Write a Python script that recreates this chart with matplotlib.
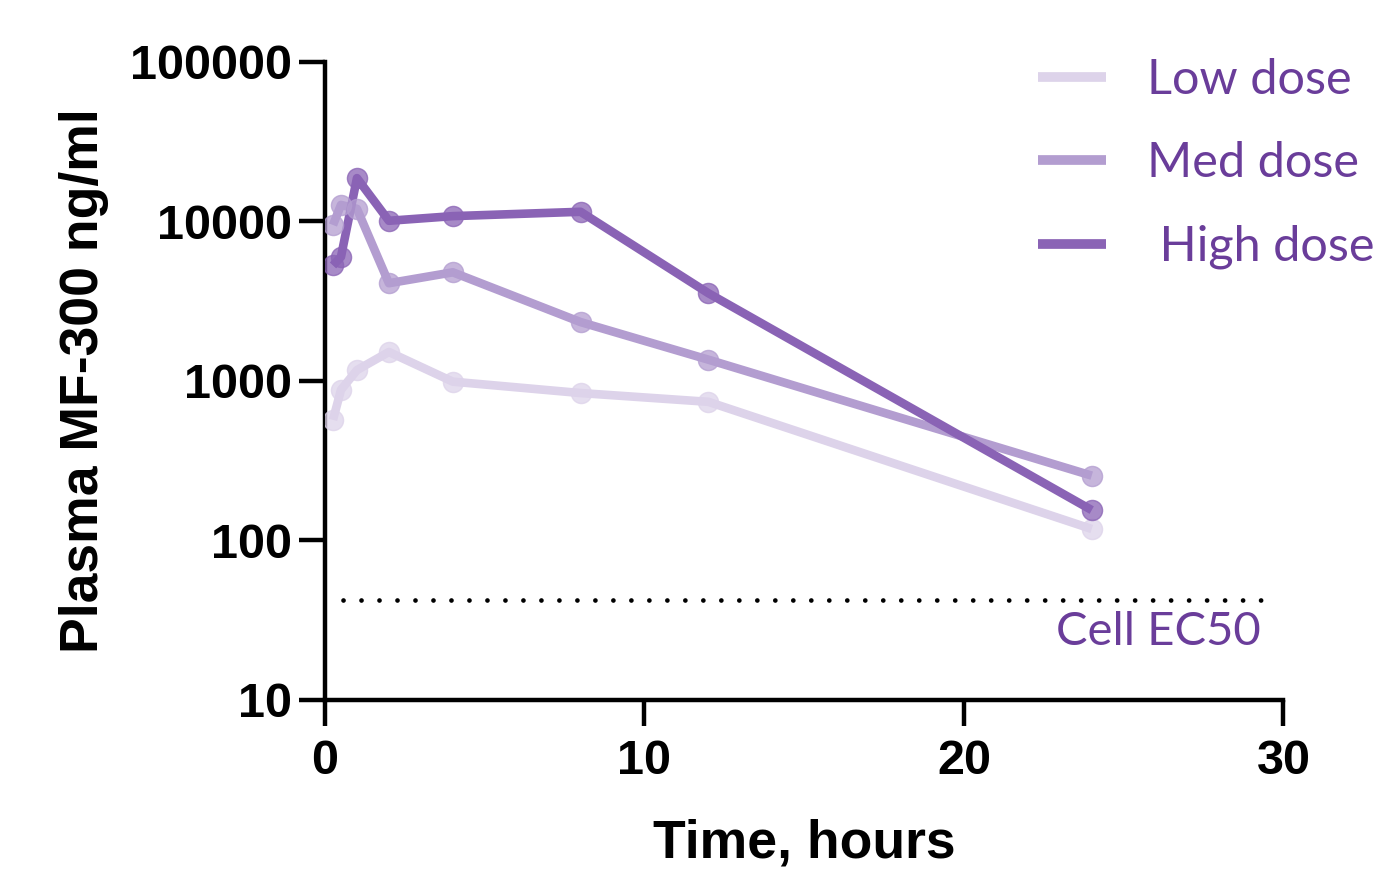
import matplotlib.pyplot as plt
from matplotlib.ticker import FixedLocator, FixedFormatter, NullLocator

# sampling times (hours)
times = [0.25, 0.5, 1, 2, 4, 8, 12, 24]

# plasma concentrations (ng/ml)
low_dose = [570, 880, 1170, 1520, 990, 840, 740, 118]
med_dose = [9500, 12700, 12000, 4100, 4800, 2340, 1360, 255]
high_dose = [5300, 6000, 18700, 10100, 10800, 11500, 3550, 155]

series_names = ["Low dose", "Med dose", " High dose"]
series_colors = ["#DDD3EA", "#B39DD0", "#8A63B5"]
ec50 = 42.5

text_purple = "#6A3D9A"

fig = plt.figure(figsize=(13.83, 8.69), dpi=100)
ax = fig.add_axes([0.235, 0.1945, 0.693, 0.7342])

handles = []
for vals, name, col in zip([low_dose, med_dose, high_dose], series_names, series_colors):
    ln, = ax.plot(times, vals, color=col, lw=6.2, solid_capstyle="butt", zorder=2, label=name)
    ax.plot(times, vals, linestyle="none", marker="o", ms=14.5, mfc=col, mec=col,
            alpha=0.75, zorder=3)
    handles.append(ln)

ax.plot([0.56, 29.5], [ec50, ec50], color="black", lw=3.4, linestyle=(0, (0.01, 3.8)),
        dash_capstyle="round", zorder=1)
ax.text(29.3, 26.7, "Cell EC50", color=text_purple, fontsize=34, family="Lato",
        ha="right", va="center")

ax.set_yscale("log")
ax.set_xlim(0, 30)
ax.set_ylim(10, 100000)
ax.yaxis.set_major_locator(FixedLocator([10, 100, 1000, 10000, 100000]))
ax.yaxis.set_major_formatter(FixedFormatter(["10", "100", "1000", "10000", "100000"]))
ax.yaxis.set_minor_locator(NullLocator())
ax.set_xticks([0, 10, 20, 30])

for side in ["top", "right"]:
    ax.spines[side].set_visible(False)
for side in ["left", "bottom"]:
    ax.spines[side].set_linewidth(3.2)
ax.tick_params(width=3.2, length=19, direction="out", labelsize=35)
ax.tick_params(axis="y", pad=5)
ax.tick_params(axis="x", pad=9)
for lab in ax.get_xticklabels() + ax.get_yticklabels():
    lab.set_fontweight("bold")
    lab.set_family("Liberation Sans")

ax.set_xlabel("Time, hours", fontsize=38.5, fontweight="bold", family="Liberation Sans", labelpad=25)
ax.set_ylabel("Plasma MF-300 ng/ml", fontsize=38.5, fontweight="bold", family="Liberation Sans",
              labelpad=15)

leg = ax.legend(handles=handles, loc="upper left", bbox_to_anchor=(1038 / 1383, 1 - 58 / 869),
                bbox_transform=fig.transFigure, frameon=False, borderpad=0, borderaxespad=0,
                handlelength=1.40, handletextpad=0.84, labelspacing=0.81,
                prop={"family": "Lato", "size": 35})
for t in leg.get_texts():
    t.set_color(text_purple)
for lh in leg.get_lines():
    lh.set_linewidth(7)

fig.savefig("out.png", dpi=100)
